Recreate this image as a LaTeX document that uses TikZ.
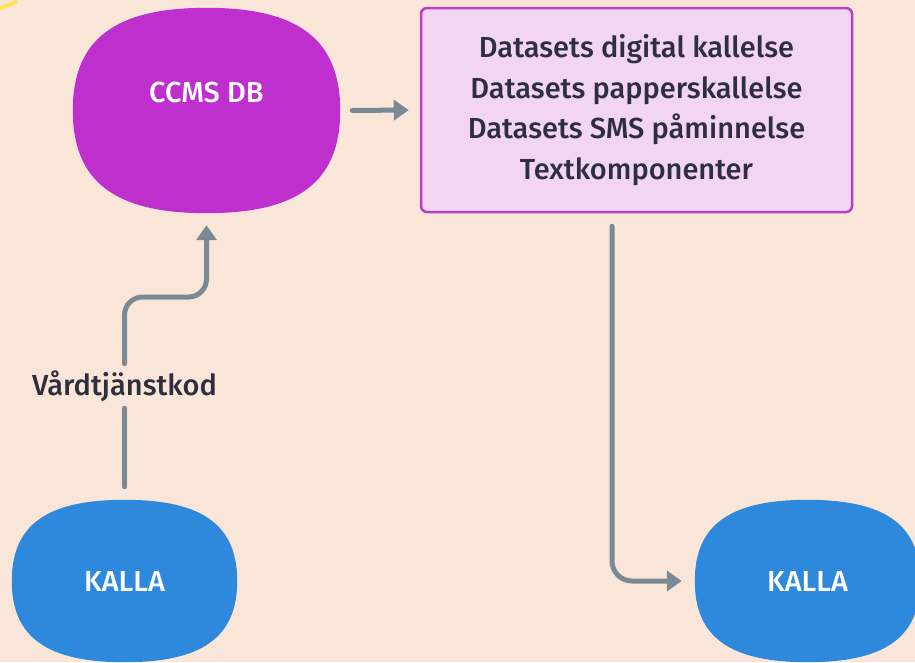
\documentclass[tikz,border=0pt]{standalone}
\usepackage{fontspec}
\setmainfont{Fira Sans}[UprightFont=* Medium]
\usetikzlibrary{arrows.meta}

\definecolor{bgpeach}{HTML}{FAE6D8}
\definecolor{dbpurple}{HTML}{BE2FCE}
\definecolor{boxfill}{HTML}{F1D5F3}
\definecolor{boxline}{HTML}{B540C5}
\definecolor{kallablue}{HTML}{2E88DB}
\definecolor{flowgray}{HTML}{7B8995}
\definecolor{inkdark}{HTML}{2E2E3E}

% soft rounded blob round a node: colour, node, control x, control y
\newcommand{\blobfill}[4]{%
  \fill[#1] (#2.north) .. controls +(#3,0) and +(0,-#4) .. (#2.east)
    .. controls +(0,#4) and +(#3,0) .. (#2.south)
    .. controls +(-#3,0) and +(0,#4) .. (#2.west)
    .. controls +(0,-#4) and +(-#3,0) .. (#2.north) -- cycle;}

\begin{document}
\begin{tikzpicture}[
  x=1pt, y=-1pt, % one unit = one pixel, y downwards
  blob/.style={rectangle, inner sep=0pt, draw=none},
  dbblob/.style={blob, minimum width=267pt, minimum height=205pt},
  kallablob/.style={blob, minimum width=225pt, minimum height=162pt,
    text=white, font=\fontsize{29}{32}\selectfont},
  setbox/.style={rectangle, rounded corners=6pt, fill=boxfill, draw=boxline, line width=2.5pt,
    minimum width=431pt, minimum height=204pt, align=center, text=inkdark,
    font=\fontsize{29}{40.5}\selectfont},
  flow/.style={draw=flowgray, line width=5pt, line cap=round,
    -{Triangle[width=20pt,length=15pt]}},
  codetext/.style={inner sep=0pt, minimum height=44pt, text=inkdark,
    font=\fontsize{29}{32}\selectfont}
  ]
  \clip (0,0) rectangle (915,662);
  \fill[bgpeach] (0,0) rectangle (915,662);
  \draw[yellow!85!orange, line width=4pt, line cap=round, opacity=.6] (0,8) -- (16,2);

  \node[dbblob] (ccms) at (206.5,110.5) {};
  \node[kallablob] (kallain) at (124.5,581) {};
  \node[kallablob] (kallaout) at (807.5,581) {};
  \blobfill{dbpurple}{ccms}{92}{71}
  \blobfill{kallablue}{kallain}{78}{56}
  \blobfill{kallablue}{kallaout}{78}{56}
  \node[text=white, font=\fontsize{29}{32}\selectfont] (ccmslabel) at (206.5,92) {CCMS DB};
  \node[kallablob] at (kallain) {KALLA};
  \node[kallablob] at (kallaout) {KALLA};
  \node[setbox] (sets) at (636.5,110) {Datasets digital kallelse\\Datasets papperskallelse\\
    Datasets SMS påminnelse\\Textkomponenter};
  \node[codetext] (code) at (124.5,386) {Vårdtjänstkod};
  \coordinate (bend) at (166,297);

  \draw[flow, shorten <=12pt, shorten >=11pt] (ccms.east) -- (sets.west);
  \draw[draw=flowgray, line width=5pt, line cap=round, shorten <=13pt] (kallain.north) -- (code.south);
  \draw[flow, rounded corners=18pt, shorten >=12pt] (code.north) |- (bend) -| (ccms.south);
  \draw[flow, rounded corners=20pt, shorten <=13pt, shorten >=13pt]
    ([xshift=-24.5pt]sets.south) |- (kallaout.west);
\end{tikzpicture}
\end{document}
